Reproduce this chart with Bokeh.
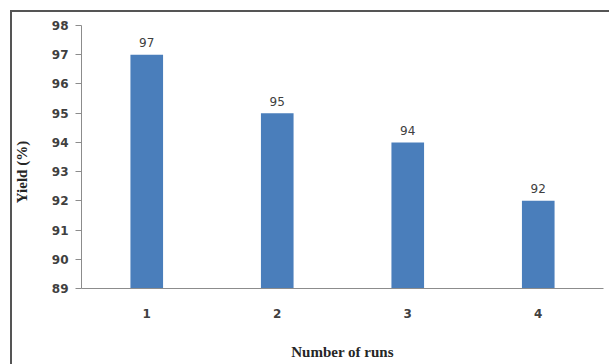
from bokeh.plotting import figure
from bokeh.models import SingleIntervalTicker, InlineStyleSheet
from bokeh.core.properties import value
from bokeh.embed import file_html
from bokeh.resources import INLINE

# Data
runs = ["1", "2", "3", "4"]
yields = [97, 95, 94, 92]
y_start = 89
y_end = 98

p = figure(
    width=609, height=364,
    x_range=runs, y_range=(y_start, y_end),
    output_backend="svg", toolbar_location=None,
    min_border_left=81, min_border_right=6,
    min_border_top=25, min_border_bottom=76,
)
p.outline_line_color = None
p.background_fill_color = "white"
p.border_fill_color = "white"
p.xgrid.visible = False
p.ygrid.visible = False

p.vbar(x=runs, top=yields, bottom=y_start, width=0.25,
       fill_color="#4A7EBB", line_color=None)

p.text(x=runs, y=yields, text=[str(v) for v in yields],
       text_align="center", text_baseline="alphabetic", y_offset=-12,
       text_font=value("DejaVu Sans"), text_font_size="12px",
       text_color="#404040")

# Y axis
ya = p.yaxis[0]
ya.ticker = SingleIntervalTicker(interval=1)
ya.minor_tick_line_color = None
ya.major_tick_out = 6
ya.major_tick_in = 0
ya.major_label_standoff = 7
ya.axis_line_color = "#8c8c8c"
ya.major_tick_line_color = "#8c8c8c"
ya.major_label_text_font = "DejaVu Sans"
ya.major_label_text_font_style = "bold"
ya.major_label_text_font_size = "12px"
ya.major_label_text_color = "#404040"
ya.axis_label = "Yield (%)" + "\u00a0" * 8
ya.axis_label_standoff = 19
ya.axis_label_text_font = "Liberation Serif"
ya.axis_label_text_font_style = "bold"
ya.axis_label_text_font_size = "15px"
ya.axis_label_text_color = "#262626"

# X axis
xa = p.xaxis[0]
xa.major_tick_line_color = None
xa.major_tick_out = 0
xa.major_tick_in = 0
xa.minor_tick_line_color = None
xa.axis_line_color = "#8c8c8c"
xa.major_label_standoff = 20
xa.major_label_text_font = "DejaVu Sans"
xa.major_label_text_font_style = "bold"
xa.major_label_text_font_size = "12px"
xa.major_label_text_color = "#404040"
xa.axis_label = "Number of runs"
xa.axis_label_standoff = 23
xa.axis_label_text_font = "Liberation Serif"
xa.axis_label_text_font_style = "bold"
xa.axis_label_text_font_size = "15px"
xa.axis_label_text_color = "#262626"

# Outer chart border (top and left lines only)
p.stylesheets = [InlineStyleSheet(css="""
:host { position: relative; overflow: hidden; }
:host::after {
  content: "";
  position: absolute;
  left: 10px; top: 10px;
  width: 620px; height: 380px;
  box-sizing: border-box;
  border-style: solid;
  border-color: #555555;
  border-width: 2px 0 0 2px;
  pointer-events: none;
}
""")]

open("out.html", "w").write(file_html(p, INLINE))
